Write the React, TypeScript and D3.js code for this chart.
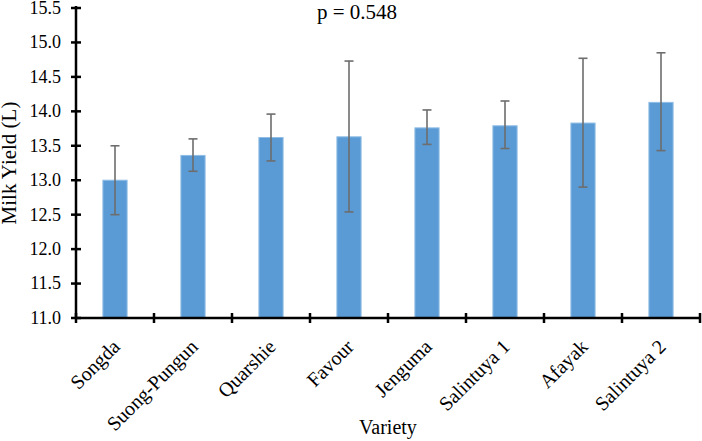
import * as d3 from 'd3';

const varieties = ['Songda', 'Suong-Pungun', 'Quarshie', 'Favour', 'Jenguma', 'Salintuya 1', 'Afayak', 'Salintuya 2'];
const means = [13.0, 13.36, 13.62, 13.63, 13.76, 13.79, 13.83, 14.13];
const upper = [13.5, 13.6, 13.96, 14.73, 14.02, 14.15, 14.77, 14.85];
const lower = [12.5, 13.13, 13.28, 12.54, 13.52, 13.46, 12.9, 13.43];
const yTicks = [11.0, 11.5, 12.0, 12.5, 13.0, 13.5, 14.0, 14.5, 15.0, 15.5];

const W = 702;
const H = 441;
const margin = { top: 8, right: 2, bottom: 123, left: 76 };
const font = '"Liberation Serif", "Times New Roman", serif';

export default function App() {
  const x = d3.scaleBand<string>()
    .domain(varieties)
    .range([margin.left, W - margin.right])
    .paddingInner(0.69)
    .paddingOuter(0.345);
  const y = d3.scaleLinear().domain([11, 15.5]).range([H - margin.bottom, margin.top]);
  const base = y(11);
  const step = x.step();
  const tickXs = varieties.map((_, i) => margin.left + i * step).concat([W - margin.right]);

  return (
    <svg width={W} height={H} style={{ position: 'absolute', left: 0, top: 0, background: '#fff' }}>
      {/* bars */}
      {varieties.map((v, i) => (
        <rect key={v} x={x(v)} y={y(means[i])} width={x.bandwidth()} height={base - y(means[i])}
          fill="#5b9bd5" stroke="#8fbde6" strokeWidth={1} />
      ))}
      {/* error bars */}
      {varieties.map((v, i) => {
        const cx = (x(v) ?? 0) + x.bandwidth() / 2;
        return (
          <g key={v} stroke="#6d6d6d" strokeWidth={1.6}>
            <line x1={cx} x2={cx} y1={y(upper[i])} y2={y(lower[i])} />
            <line x1={cx - 4.5} x2={cx + 4.5} y1={y(upper[i])} y2={y(upper[i])} />
            <line x1={cx - 4.5} x2={cx + 4.5} y1={y(lower[i])} y2={y(lower[i])} />
          </g>
        );
      })}
      {/* y axis */}
      <line x1={margin.left} x2={margin.left} y1={y(15.5) - 2} y2={base + 1} stroke="#000" strokeWidth={2.5} />
      {yTicks.map(t => (
        <g key={t}>
          <line x1={margin.left - 5} x2={margin.left + 5} y1={y(t)} y2={y(t)} stroke="#000" strokeWidth={2.5} />
          <text x={margin.left - 15} y={y(t)} dy="0.33em" textAnchor="end" fontFamily={font} fontSize={18} fill="#000">
            {d3.format('.1f')(t)}
          </text>
        </g>
      ))}
      {/* x axis */}
      <line x1={margin.left} x2={W - margin.right} y1={base} y2={base} stroke="#000" strokeWidth={2.5} />
      {tickXs.map((tx, i) => (
        <line key={i} x1={tx} x2={tx} y1={base - 5} y2={base + 5} stroke="#000" strokeWidth={2.5} />
      ))}
      {varieties.map(v => {
        const cx = (x(v) ?? 0) + x.bandwidth() / 2;
        return (
          <text key={v} transform={`translate(${cx + 6},${base + 30}) rotate(-45)`} textAnchor="end"
            fontFamily={font} fontSize={20} fill="#000">{v}</text>
        );
      })}
      <text x={388} y={434} textAnchor="middle" fontFamily={font} fontSize={20} fill="#000">Variety</text>
      <text transform={`translate(16,${(margin.top + base) / 2}) rotate(-90)`} textAnchor="middle"
        fontFamily={font} fontSize={21} fill="#000">Milk Yield (L)</text>
      <text x={357} y={19} textAnchor="middle" fontFamily={font} fontSize={21} fill="#000">p = 0.548</text>
    </svg>
  );
}
